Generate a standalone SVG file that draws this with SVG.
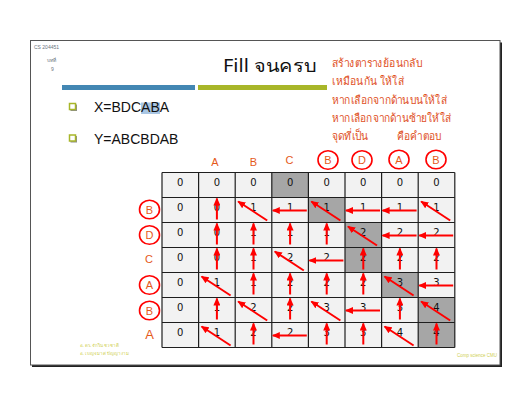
<svg xmlns="http://www.w3.org/2000/svg" width="529" height="414" viewBox="0 0 529 414">
<style>
.num{font-family:"DejaVu Sans","Liberation Sans",sans-serif;font-size:10px;fill:#111;text-anchor:middle}
.hdr{font-family:"Liberation Sans","Noto Sans",sans-serif;font-size:11px;fill:#e5591a;text-anchor:middle}
.ring{fill:none;stroke:#ff0000;stroke-width:1.6}
.thai{font-family:"Noto Sans","DejaVu Sans",sans-serif;font-size:11.5px;fill:#e0501e}
.arr{fill:none;stroke:#ff0000;stroke-width:2;marker-end:url(#ah)}
.grid{stroke:#1e1e1e;stroke-width:1.2}
.foot{font-family:"Noto Sans","DejaVu Sans",sans-serif;font-size:4.5px;fill:#cfcf52}
</style>
<defs>
<marker id="ah" viewBox="0 0 8 7" markerWidth="8" markerHeight="7" refX="7" refY="3.5" orient="auto" markerUnits="userSpaceOnUse">
<path d="M0,0 L8,3.5 L0,7 z" fill="#ff0000"/>
</marker>
</defs>
<rect width="529" height="414" fill="#ffffff"/>
<g id="frame">
<rect x="32" y="42.5" width="470" height="324.5" fill="#222"/>
<rect x="30.5" y="40.5" width="469.5" height="324.5" fill="#fff" stroke="#555" stroke-width="1"/>
</g>
<g id="header">
<text x="34" y="49" font-family="Liberation Sans,sans-serif" font-size="5px" fill="#6b7480">CS 204451</text>
<text x="47" y="62" font-family="Noto Sans,sans-serif" font-size="5px" fill="#6b7480">บทที่</text>
<text x="51" y="71" font-family="Liberation Sans,sans-serif" font-size="5px" fill="#6b7480">9</text>
<text x="223" y="72" font-family="Noto Sans,DejaVu Sans,sans-serif" font-size="18px" fill="#111" textLength="93" lengthAdjust="spacingAndGlyphs">Fill จนครบ</text>
<rect x="62" y="85" width="133" height="5" fill="#4387b3"/>
<rect x="198" y="85" width="129" height="5" fill="#a8b629"/>
</g>
<g id="bullets">
<rect x="70.5" y="104.5" width="6.5" height="6.5" fill="#8c8c8c"/>
<rect x="69.5" y="103.5" width="6" height="6" fill="#fff" stroke="#a8b629" stroke-width="1.5"/>
<rect x="70.5" y="136" width="6.5" height="6.5" fill="#8c8c8c"/>
<rect x="69.5" y="135" width="6" height="6" fill="#fff" stroke="#a8b629" stroke-width="1.5"/>
<rect x="141" y="102.5" width="19" height="11.5" fill="#a9c6e3"/>
<text x="94" y="112" font-family="Liberation Sans,sans-serif" font-size="14px" fill="#111">X=BDCABA</text>
<text x="94" y="143.5" font-family="Liberation Sans,sans-serif" font-size="14px" fill="#111">Y=ABCBDAB</text>
</g>
<g id="notes">
<text class="thai" x="332" y="67" textLength="90" lengthAdjust="spacingAndGlyphs">สร้างตารางย้อนกลับ</text>
<text class="thai" x="332" y="85" textLength="72" lengthAdjust="spacingAndGlyphs">เหมือนกัน ให้ใส่</text>
<text class="thai" x="332" y="104" textLength="115" lengthAdjust="spacingAndGlyphs">หากเลือกจากด้านบนให้ใส่</text>
<text class="thai" x="332" y="122" textLength="119" lengthAdjust="spacingAndGlyphs">หากเลือกจากด้านซ้ายให้ใส่</text>
<text class="thai" x="332" y="140" textLength="36.5" lengthAdjust="spacingAndGlyphs">จุดที่เป็น</text>
<text class="thai" x="397" y="140" textLength="44" lengthAdjust="spacingAndGlyphs">คือคำตอบ</text>
</g>
<g id="table">
<rect x="162" y="172.5" width="292.8" height="175" fill="#f2f2f2"/>
<g fill="#a6a6a6">
<rect x="271.8" y="172.5" width="36.6" height="25"/>
<rect x="308.4" y="197.5" width="36.6" height="25"/>
<rect x="345" y="222.5" width="36.6" height="50"/>
<rect x="381.6" y="272.5" width="36.6" height="25"/>
<rect x="418.2" y="297.5" width="36.6" height="50"/>
</g>
<g class="grid">
<line x1="162" y1="172.5" x2="454.8" y2="172.5"/>
<line x1="162" y1="197.5" x2="454.8" y2="197.5"/>
<line x1="162" y1="222.5" x2="454.8" y2="222.5"/>
<line x1="162" y1="247.5" x2="454.8" y2="247.5"/>
<line x1="162" y1="272.5" x2="454.8" y2="272.5"/>
<line x1="162" y1="297.5" x2="454.8" y2="297.5"/>
<line x1="162" y1="322.5" x2="454.8" y2="322.5"/>
<line x1="162" y1="347.5" x2="454.8" y2="347.5"/>
<line x1="162" y1="172.5" x2="162" y2="347.5"/>
<line x1="198.6" y1="172.5" x2="198.6" y2="347.5"/>
<line x1="235.2" y1="172.5" x2="235.2" y2="347.5"/>
<line x1="271.8" y1="172.5" x2="271.8" y2="347.5"/>
<line x1="308.4" y1="172.5" x2="308.4" y2="347.5"/>
<line x1="345" y1="172.5" x2="345" y2="347.5"/>
<line x1="381.6" y1="172.5" x2="381.6" y2="347.5"/>
<line x1="418.2" y1="172.5" x2="418.2" y2="347.5"/>
<line x1="454.8" y1="172.5" x2="454.8" y2="347.5"/>
</g>
<g id="row0" class="num">
<text x="180.3" y="186">0</text><text x="216.9" y="186">0</text><text x="253.5" y="186">0</text><text x="290.1" y="186">0</text><text x="326.7" y="186">0</text><text x="363.3" y="186">0</text><text x="399.9" y="186">0</text><text x="436.5" y="186">0</text>
</g>
<g id="row1" class="num">
<text x="180.3" y="211">0</text><text x="216.9" y="211">0</text><text x="253.5" y="211">1</text><text x="290.1" y="211">1</text><text x="326.7" y="211">1</text><text x="363.3" y="211">1</text><text x="399.9" y="211">1</text><text x="436.5" y="211">1</text>
</g>
<g id="row2" class="num">
<text x="180.3" y="236">0</text><text x="216.9" y="236">0</text><text x="253.5" y="236">1</text><text x="290.1" y="236">1</text><text x="326.7" y="236">1</text><text x="363.3" y="236">2</text><text x="399.9" y="236">2</text><text x="436.5" y="236">2</text>
</g>
<g id="row3" class="num">
<text x="180.3" y="261">0</text><text x="216.9" y="261">0</text><text x="253.5" y="261">1</text><text x="290.1" y="261">2</text><text x="326.7" y="261">2</text><text x="363.3" y="261">2</text><text x="399.9" y="261">2</text><text x="436.5" y="261">2</text>
</g>
<g id="row4" class="num">
<text x="180.3" y="286">0</text><text x="216.9" y="286">1</text><text x="253.5" y="286">1</text><text x="290.1" y="286">2</text><text x="326.7" y="286">2</text><text x="363.3" y="286">2</text><text x="399.9" y="286">3</text><text x="436.5" y="286">3</text>
</g>
<g id="row5" class="num">
<text x="180.3" y="311">0</text><text x="216.9" y="311">1</text><text x="253.5" y="311">2</text><text x="290.1" y="311">2</text><text x="326.7" y="311">3</text><text x="363.3" y="311">3</text><text x="399.9" y="311">3</text><text x="436.5" y="311">4</text>
</g>
<g id="row6" class="num">
<text x="180.3" y="336">0</text><text x="216.9" y="336">1</text><text x="253.5" y="336">2</text><text x="290.1" y="336">2</text><text x="326.7" y="336">3</text><text x="363.3" y="336">3</text><text x="399.9" y="336">4</text><text x="436.5" y="336">4</text>
</g>
</g>
<g id="col-headers">
<text class="hdr" x="215" y="166">A</text>
<text class="hdr" x="253.5" y="166">B</text>
<text class="hdr" x="289.5" y="163.5">C</text>
<ellipse class="ring" cx="328" cy="160" rx="10" ry="9.3"/><text class="hdr" x="328" y="164">B</text>
<ellipse class="ring" cx="362" cy="160" rx="10" ry="9.3"/><text class="hdr" x="362" y="164">D</text>
<ellipse class="ring" cx="399" cy="159.5" rx="10" ry="9.3"/><text class="hdr" x="399" y="163.5">A</text>
<ellipse class="ring" cx="436" cy="159.5" rx="10" ry="9.3"/><text class="hdr" x="436" y="163.5">B</text>
</g>
<g id="row-headers">
<ellipse class="ring" cx="149.5" cy="209.5" rx="10" ry="9.3"/><text class="hdr" x="149.5" y="213.5">B</text>
<ellipse class="ring" cx="149.5" cy="235" rx="10" ry="9.3"/><text class="hdr" x="149.5" y="239">D</text>
<text class="hdr" x="149" y="262.5">C</text>
<ellipse class="ring" cx="149.5" cy="285" rx="10" ry="9.3"/><text class="hdr" x="149.5" y="289">A</text>
<ellipse class="ring" cx="149.5" cy="310.5" rx="10" ry="9.3"/><text class="hdr" x="149.5" y="314.5">B</text>
<text class="hdr" x="149.5" y="339" style="font-size:13px">A</text>
</g>
<g id="connectors">
<path class="arr" d="M216.9,219.5 V198.5"/>
<path class="arr" d="M267.2,220.5 L238.2,201.5"/>
<path class="arr" d="M306.8,210.5 H272.8"/>
<path class="arr" d="M340.4,220.5 L311.4,201.5"/>
<path class="arr" d="M380,210.5 H346"/>
<path class="arr" d="M416.6,210.5 H382.6"/>
<path class="arr" d="M450.2,220.5 L421.2,201.5"/>
<path class="arr" d="M216.9,244.5 V223.5"/>
<path class="arr" d="M253.5,244.5 V223.5"/>
<path class="arr" d="M290.1,244.5 V223.5"/>
<path class="arr" d="M326.7,244.5 V223.5"/>
<path class="arr" d="M377,245.5 L348,226.5"/>
<path class="arr" d="M416.6,235.5 H382.6"/>
<path class="arr" d="M453.2,235.5 H419.2"/>
<path class="arr" d="M216.9,269.5 V248.5"/>
<path class="arr" d="M253.5,269.5 V248.5"/>
<path class="arr" d="M303.8,270.5 L274.8,251.5"/>
<path class="arr" d="M343.4,260.5 H309.4"/>
<path class="arr" d="M363.3,269.5 V248.5"/>
<path class="arr" d="M399.9,269.5 V248.5"/>
<path class="arr" d="M436.5,269.5 V248.5"/>
<path class="arr" d="M230.6,295.5 L201.6,276.5"/>
<path class="arr" d="M253.5,294.5 V273.5"/>
<path class="arr" d="M290.1,294.5 V273.5"/>
<path class="arr" d="M326.7,294.5 V273.5"/>
<path class="arr" d="M363.3,294.5 V273.5"/>
<path class="arr" d="M413.6,295.5 L384.6,276.5"/>
<path class="arr" d="M453.2,285.5 H419.2"/>
<path class="arr" d="M216.9,319.5 V298.5"/>
<path class="arr" d="M267.2,320.5 L238.2,301.5"/>
<path class="arr" d="M290.1,319.5 V298.5"/>
<path class="arr" d="M340.4,320.5 L311.4,301.5"/>
<path class="arr" d="M380,310.5 H346"/>
<path class="arr" d="M399.9,319.5 V298.5"/>
<path class="arr" d="M450.2,320.5 L421.2,301.5"/>
<path class="arr" d="M230.6,345.5 L201.6,326.5"/>
<path class="arr" d="M253.5,344.5 V323.5"/>
<path class="arr" d="M306.8,335.5 H272.8"/>
<path class="arr" d="M326.7,344.5 V323.5"/>
<path class="arr" d="M363.3,344.5 V323.5"/>
<path class="arr" d="M413.6,345.5 L384.6,326.5"/>
<path class="arr" d="M436.5,344.5 V323.5"/>
</g>
<g id="footer">
<text class="foot" x="79.5" y="346.5">อ. ดร. จักริน ชวชาติ</text>
<text class="foot" x="79.5" y="355">อ. เบญจมาศ ปัญญางาม</text>
<text class="foot" x="457" y="356.5" style="font-family:'Liberation Sans',sans-serif">Comp science CMU</text>
</g>
</svg>
